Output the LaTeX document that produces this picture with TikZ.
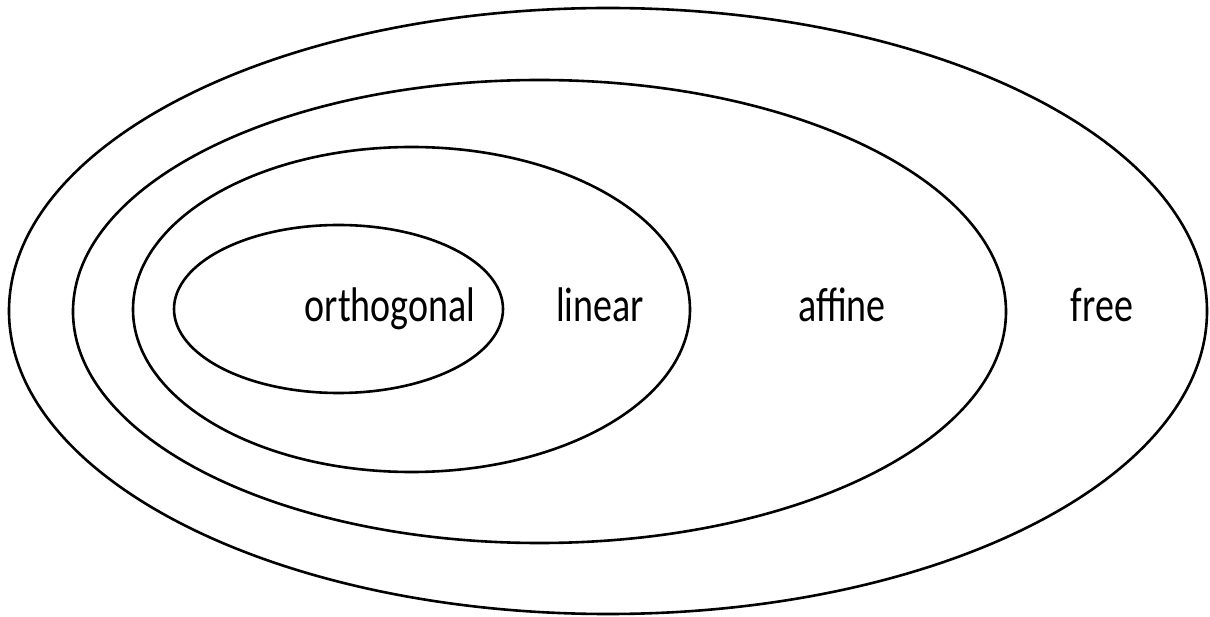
\documentclass[tikz,border=0pt]{standalone}
\usepackage{fontspec}
\setmainfont{Carlito}
\usepackage{graphicx}
\begin{document}
\begin{tikzpicture}[x=1pt,y=-1pt,
  set/.style={draw=black, line width=2.6pt},
  setlabel/.style={anchor=base, inner sep=0pt, font=\fontsize{38}{44}\selectfont}]
\useasboundingbox (0,0) rectangle (1210,617);
% nested sets, outermost first
\draw[set] (608,311) ellipse [x radius=599, y radius=303];
\draw[set] (539.5,311.5) ellipse [x radius=466.5, y radius=231.5];
\draw[set] (411.5,309.5) ellipse [x radius=278.5, y radius=162.5];
\draw[set] (338.5,309) ellipse [x radius=164.5, y radius=84];
% labels
\node[setlabel] (orth) at (390,322) {\scalebox{1}[1.28]{orthogonal}};
\node[setlabel] (lin) at (600,322) {\scalebox{1}[1.28]{linear}};
\node[setlabel] (aff) at (842,322) {\scalebox{1}[1.28]{affine}};
\node[setlabel] (free) at (1102,322) {\scalebox{1}[1.28]{free}};
\end{tikzpicture}
\end{document}
